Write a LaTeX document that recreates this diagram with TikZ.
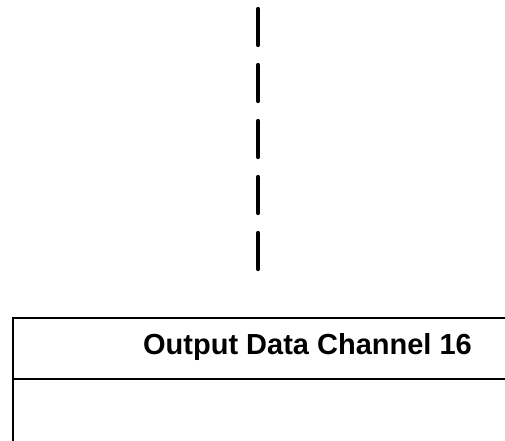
\documentclass[tikz,border=0pt]{standalone}
\usepackage{fontspec}
\setmainfont{Liberation Sans}
\begin{document}
\begin{tikzpicture}[x=1pt,y=-1pt,
  frame/.style={line width=2pt, line cap=rect},
  channel/.style={font=\bfseries\fontsize{29}{34}\selectfont, inner sep=0pt}]
\useasboundingbox (0,0) rectangle (505,440);
% dashed continuation line above the channel block
\coordinate (top) at (258,9);
\coordinate (bot) at (258,269);
\draw[line width=4.2pt, line cap=round, dash pattern=on 36pt off 20pt] (top) -- (bot);
% channel block: header row and body, running off the right and bottom edges
\coordinate (tr) at (505,318);
\coordinate (tl) at (12.5,318);
\coordinate (bl) at (12.5,440);
\coordinate (ml) at (12.5,379);
\coordinate (mr) at (505,379);
\draw[frame] (tr) -- (tl) -- (bl);
\draw[frame] (ml) -- (mr);
\node[channel, anchor=base] (hdr) at (307.5,354) {Output Data Channel 16};
\end{tikzpicture}
\end{document}
